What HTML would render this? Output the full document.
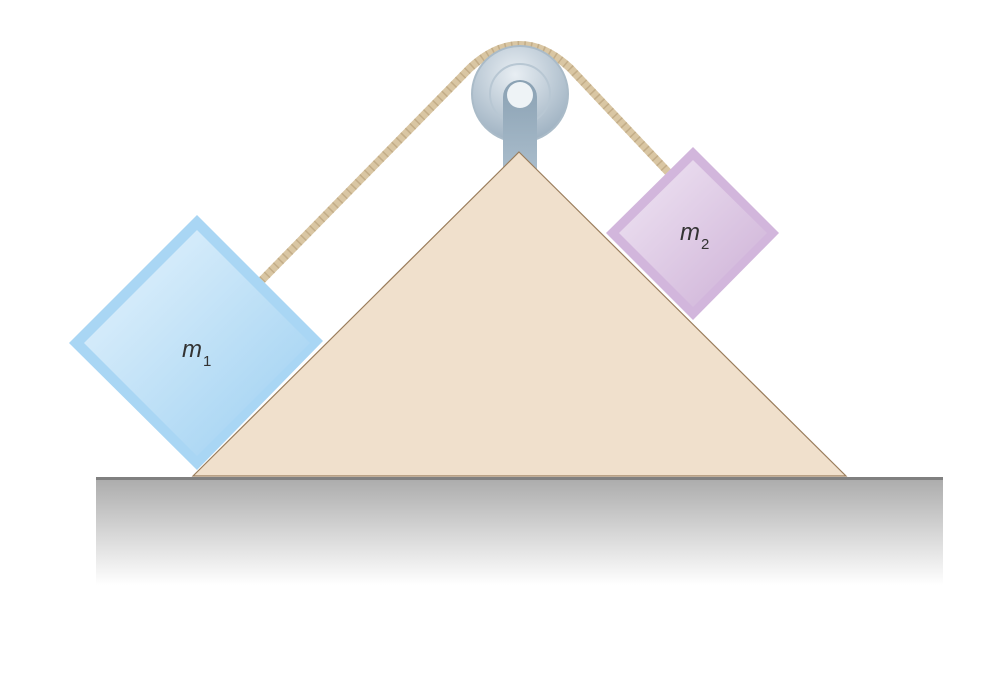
<!DOCTYPE html>
<html><head><meta charset="utf-8"><style>html,body{margin:0;padding:0;background:#fff}svg{display:block}</style></head>
<body>
<svg width="1000" height="676" viewBox="0 0 1000 676" xmlns="http://www.w3.org/2000/svg">
<defs>
<linearGradient id="gnd" x1="0" y1="0" x2="0" y2="1"><stop offset="0" stop-color="#acacac"/><stop offset="0.85" stop-color="#ffffff"/></linearGradient>
<linearGradient id="b1" x1="0" y1="0" x2="1" y2="1"><stop offset="0" stop-color="#e6f4fd"/><stop offset="1" stop-color="#9ccff1"/></linearGradient>
<linearGradient id="b2" x1="0" y1="0" x2="1" y2="1"><stop offset="0" stop-color="#f0e6f4"/><stop offset="1" stop-color="#cdb0d6"/></linearGradient>
<radialGradient id="pul" cx="0.45" cy="0.3" r="0.7"><stop offset="0" stop-color="#e8eef3"/><stop offset="1" stop-color="#9fb2c2"/></radialGradient>
<linearGradient id="post" x1="0" y1="0" x2="0" y2="1"><stop offset="0" stop-color="#8aa1b3"/><stop offset="1" stop-color="#a9bccb"/></linearGradient>
</defs>
<g>
<rect x="96" y="479" width="847" height="125" fill="url(#gnd)"/>
<line x1="96" y1="478.5" x2="943" y2="478.5" stroke="#808080" stroke-width="3"/>
</g>
<g>
<path d="M262,280 L470,68 Q520,22 570,68 L668,172" fill="none" stroke="#d9c6a3" stroke-width="8"/>
<path d="M262,280 L470,68 Q520,22 570,68 L668,172" fill="none" stroke="#b9a27c" stroke-width="8" stroke-dasharray="1.5 5" opacity="0.7"/>
</g>
<g>
<circle cx="520" cy="94" r="48" fill="url(#pul)" stroke="#aabbc8" stroke-width="2"/>
<circle cx="520" cy="94" r="30" fill="none" stroke="#b8c7d3" stroke-width="2"/>
<path d="M503,97 A17,17 0 0 1 537,97 L537,170 L503,170 Z" fill="url(#post)"/>
<circle cx="520" cy="95" r="13" fill="#eef3f6"/>
</g>
<polygon points="519,152 846,476 193,476" fill="#f0e0cc" stroke="#9a7d5c" stroke-width="1.2"/>
<g>
<polygon points="197,215 323,341 197,470 69,343" fill="#a9d6f4"/>
<polygon points="197,230 310,343 197,456 84,343" fill="url(#b1)"/>
<text x="182" y="357" font-family="Liberation Sans, sans-serif" font-style="italic" font-size="24" fill="#333">m</text>
<text x="203" y="366" font-family="Liberation Sans, sans-serif" font-size="15" fill="#333">1</text>
</g>
<g>
<polygon points="693,147 779,233 693,320 606,233" fill="#d2b6dc"/>
<polygon points="693,160 767,233 693,307 619,233" fill="url(#b2)"/>
<text x="680" y="240" font-family="Liberation Sans, sans-serif" font-style="italic" font-size="24" fill="#333">m</text>
<text x="701" y="249" font-family="Liberation Sans, sans-serif" font-size="15" fill="#333">2</text>
</g>
</svg>
</body></html>
